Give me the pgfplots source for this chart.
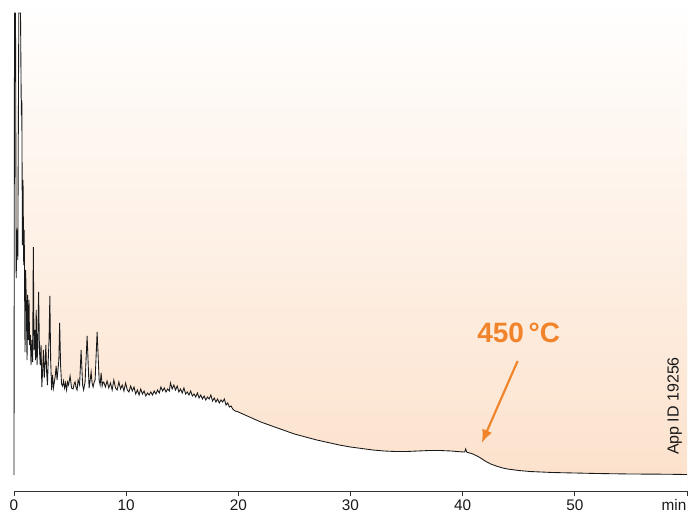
\documentclass[border=0pt]{standalone}
\usepackage{pgfplots}
\usepackage{pgfplotstable}
\pgfplotsset{compat=1.18}
\usetikzlibrary{arrows.meta}
\usepackage{fontspec}
\setmainfont{Liberation Sans}
\definecolor{peach}{RGB}{252,225,203}
\definecolor{arroworange}{RGB}{241,131,42}

\pgfplotstableread{
t v
0.000 16
0.045 478
0.134 478
0.196 213
0.268 261
0.339 231
0.429 478
0.580 478
0.652 376
0.696 391
0.750 246
0.804 311
0.866 226
0.911 261
0.982 139
1.036 221
1.098 191
1.161 131
1.214 196
1.277 151
1.339 191
1.393 146
1.455 156
1.518 126
1.589 151
1.661 129
1.723 244
1.786 141
1.857 161
1.920 131
1.982 181
2.054 126
2.125 151
2.196 199
2.268 141
2.339 126
2.411 146
2.482 104
2.554 121
2.625 141
2.696 113
2.768 126
2.839 146
2.911 119
2.982 106
3.054 131
3.125 151
3.196 195
3.268 131
3.357 101
3.438 116
3.518 103
3.598 109
3.679 115
3.759 125
3.839 111
3.920 121
4.000 131
4.071 168
4.152 126
4.241 107
4.330 105
4.420 110
4.509 103
4.598 108
4.688 101
4.777 109
4.866 106
5.000 115
5.134 103
5.268 102
5.360 107
5.446 109
5.540 103
5.625 101
5.714 111
5.848 106
5.982 141
6.116 106
6.205 101
6.339 109
6.518 155
6.696 103
6.780 110
6.875 119
6.960 108
7.054 104
7.150 109
7.232 111
7.411 159
7.589 111
7.680 106
7.768 118
7.860 105
7.946 109
8.000 109
8.15 104
8.30 110
8.45 103
8.60 108
8.75 101
8.90 111
9.05 103
9.20 101
9.35 109
9.50 102
9.65 106
9.80 100
9.95 108
10.10 101
10.25 99
10.40 105
10.55 100
10.70 104
10.85 97
11.00 101
11.15 96
11.30 102
11.45 97
11.60 100
11.75 95
11.90 98
12.05 96
12.20 99
12.35 96
12.50 100
12.65 97
12.80 101
12.95 98
13.10 104
13.25 100
13.40 103
13.55 99
13.70 102
13.85 100
13.95 108
14.10 102
14.25 106
14.40 101
14.55 105
14.70 99
14.85 102
15.00 98
15.15 103
15.30 97
15.45 99
15.60 96
15.75 100
15.90 95
16.05 97
16.20 94
16.35 98
16.50 93
16.65 96
16.80 92
16.95 95
17.10 91
17.25 94
17.40 92
17.55 96
17.70 90
17.85 93
18.00 89
18.15 92
18.30 88
18.45 91
18.60 89
18.75 92
18.90 86
19.05 88
19.20 84
19.35 85
19.50 82
19.70 80
19.90 79.5
20.20 78
20.60 76
21.00 74
22.00 69
23.00 65
24.00 61
25.00 57
26.00 54
27.00 51
28.00 48.5
29.00 46
30.00 44
31.00 42.5
32.00 41
33.00 40
34.00 39.5
35.00 39.5
36.00 40
37.00 40.5
38.00 40.5
39.00 40
39.80 39.2
40.18 39
40.27 42
40.36 38.8
40.80 37.5
41.20 35.5
41.60 33
42.00 30
42.50 27
43.00 25
43.50 23.2
44.00 22
45.00 20.5
46.00 19.5
47.00 19
48.00 18.5
50.00 18
52.00 17.5
55.00 17
58.00 16.8
60.00 16.5
}\chrom

\begin{document}
\begin{tikzpicture}
\path[use as bounding box] (0,0) rectangle (516.75pt,384pt);
\begin{axis}[
  at={(10.5pt,15.75pt)}, anchor=south west,
  width=504.75pt, height=368.25pt, scale only axis,
  xmin=0, xmax=60, ymin=0, ymax=491,
  axis y line=none,
  axis x line*=bottom,
  x axis line style={black!80, line width=0.6pt},
  xtick={0,10,20,30,40,50},
  extra x ticks={60},
  extra x tick labels={min},
  extra x tick style={xticklabel style={anchor=north east, xshift=3pt}},
  tick align=outside,
  major tick length=3.75pt,
  tick style={black!80, line width=0.6pt},
  /pgf/number format/assume math mode=true,
  ticklabel style={font=\fontsize{11.5}{12}\selectfont, text=black!90},
  xticklabel style={yshift=1pt},
  axis on top=true,
  clip=false,
]
\fill[top color=white, bottom color=peach] (rel axis cs:0,0) rectangle (rel axis cs:1,1);
\addplot[fill=white, draw=none] table[x=t, y=v] {\chrom} \closedcycle;
\addplot[black!90, line width=0.65pt] table[x=t, y=v] {\chrom};
\draw[arroworange, line width=1.6pt, -{Latex[length=10pt,width=8pt]}] (axis cs:44.9,130) -- (axis cs:41.7,48);
\node[text=arroworange, font=\fontsize{21}{21}\selectfont\bfseries] at (axis cs:45.0,158) {450\,°C};
\node[rotate=90, font=\fontsize{12}{12}\selectfont, text=black!90] at (axis cs:58.9,85) {App ID 19256};
\end{axis}
\end{tikzpicture}
\end{document}
